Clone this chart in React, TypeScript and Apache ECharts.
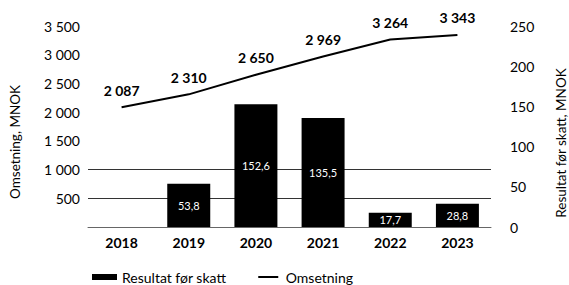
import React, { useEffect, useRef } from "react";
import * as echarts from "echarts";

const years = ["2018", "2019", "2020", "2021", "2022", "2023"];
const resultat: (number | null)[] = [null, 53.8, 152.6, 135.5, 17.7, 28.8];
const omsetning = [2087, 2310, 2650, 2969, 3264, 3343];
const leftAxis = { min: 0, max: 3500, interval: 500 };
const rightAxis = { min: 0, max: 250, interval: 50 };
const leftName = "Omsetning, MNOK";
const rightName = "Resultat før skatt, MNOK";
const barName = "Resultat før skatt";
const lineName = "Omsetning";

const FONT = "Lato";
const fmtThousands = (v: number) => String(Math.round(v)).replace(/\B(?=(\d{3})+(?!\d))/g, " ");
const fmtDec = (v: number) => v.toFixed(1).replace(".", ",");

export default function App() {
  const ref = useRef<HTMLDivElement>(null);
  useEffect(() => {
    if (!ref.current) return;
    const chart = echarts.init(ref.current, undefined, { renderer: "svg" });
    chart.setOption({
      animation: false,
      backgroundColor: "#fff",
      textStyle: { fontFamily: FONT },
      grid: { left: 88, right: 78, top: 26, bottom: 58, containLabel: false },
      legend: {
        left: 87,
        top: 265,
        itemWidth: 25,
        itemHeight: 6,
        itemGap: 32,
        itemTextGap: 4,
        textStyle: { fontFamily: FONT, fontSize: 14, color: "#000" },
        data: [
          { name: barName, icon: "rect" },
          { name: lineName, icon: "path://M0,0h0.01v6h-0.01zM0,2.1h20v1.8h-20z" },
        ],
      },
      xAxis: {
        type: "category",
        data: years,
        axisLine: { show: true, lineStyle: { color: "#666", width: 1 } },
        axisTick: { show: false },
        axisLabel: { fontFamily: FONT, fontSize: 14, fontWeight: "bold", color: "#000", margin: 8 },
      },
      yAxis: [
        {
          type: "value",
          min: leftAxis.min,
          max: leftAxis.max,
          interval: leftAxis.interval,
          axisLine: { show: false },
          axisTick: { show: false },
          axisLabel: {
            fontFamily: FONT,
            fontSize: 14,
            color: "#000",
            margin: 8,
            formatter: (v: number) => (v === 0 ? "" : fmtThousands(v)),
          },
          splitLine: {
            show: true,
            lineStyle: {
              color: ["#333", "#333", "#333", "rgba(0,0,0,0)", "rgba(0,0,0,0)", "rgba(0,0,0,0)", "rgba(0,0,0,0)", "rgba(0,0,0,0)"],
              width: 1,
            },
          },
        },
        {
          type: "value",
          min: rightAxis.min,
          max: rightAxis.max,
          interval: rightAxis.interval,
          axisLine: { show: false },
          axisTick: { show: false },
          splitLine: { show: false },
          axisLabel: { fontFamily: FONT, fontSize: 14, color: "#000", margin: 19 },
        },
      ],
      graphic: [
        {
          type: "text",
          x: 15,
          y: 142,
          rotation: Math.PI / 2,
          style: {
            text: leftName,
            fontFamily: FONT,
            fontSize: 13.5,
            fill: "#000",
            textAlign: "center",
            textVerticalAlign: "middle",
          },
        },
        {
          type: "text",
          x: 561,
          y: 143,
          rotation: Math.PI / 2,
          style: {
            text: rightName,
            fontFamily: FONT,
            fontSize: 13.5,
            fill: "#000",
            textAlign: "center",
            textVerticalAlign: "middle",
          },
        },
      ],
      series: [
        {
          name: barName,
          type: "bar",
          yAxisIndex: 1,
          data: resultat,
          barWidth: "64%",
          itemStyle: { color: "#000" },
          label: {
            show: true,
            position: "inside",
            color: "#fff",
            fontFamily: FONT,
            fontSize: 11,
            formatter: (p: any) => (p.value == null ? "" : fmtDec(p.value)),
          },
          z: 2,
        },
        {
          name: lineName,
          type: "line",
          yAxisIndex: 0,
          data: omsetning,
          symbol: "circle",
          symbolSize: 0.1,
          showSymbol: true,
          lineStyle: { color: "#000", width: 2 },
          itemStyle: { color: "#000" },
          label: {
            show: true,
            position: "top",
            distance: 10,
            color: "#000",
            fontFamily: FONT,
            fontSize: 14,
            fontWeight: "bold",
            formatter: (p: any) => fmtThousands(p.value),
          },
          z: 3,
        },
      ],
    });
    return () => chart.dispose();
  }, []);
  return <div ref={ref} style={{ position: "fixed", left: 0, top: 0, width: 569, height: 285 }} />;
}
